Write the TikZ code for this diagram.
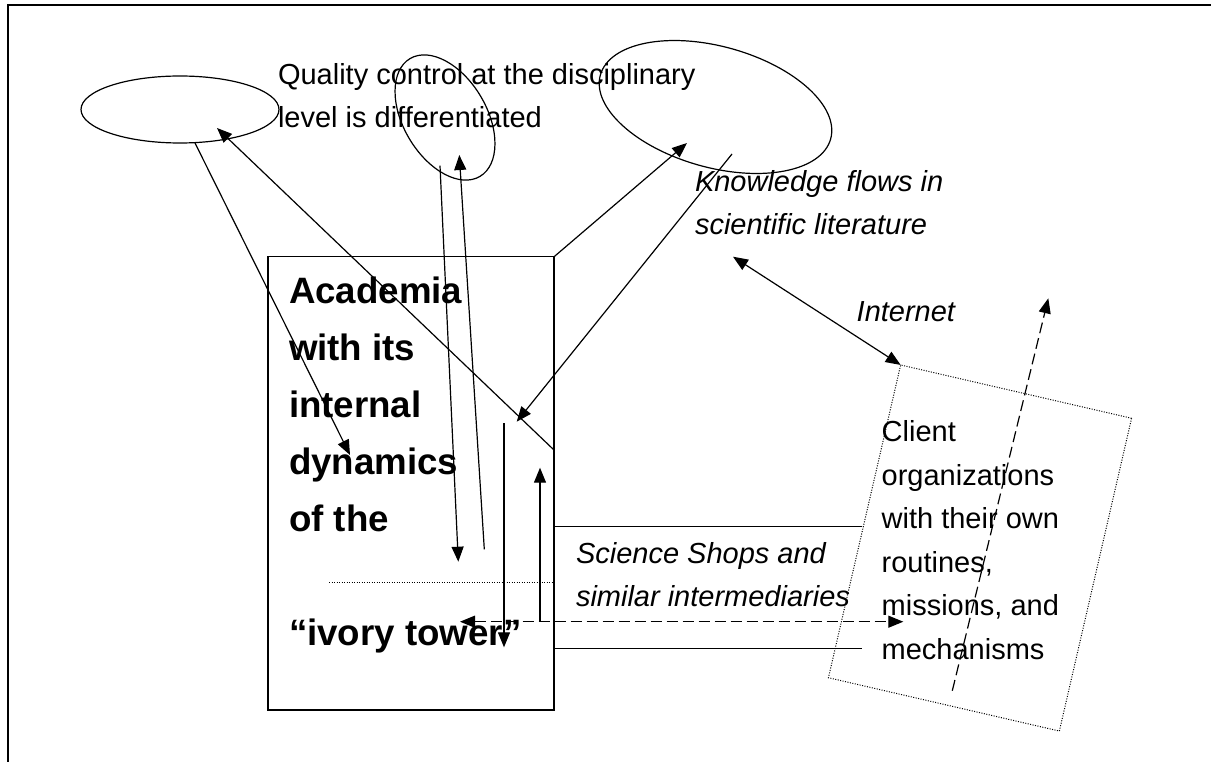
\documentclass[tikz,border=0pt]{standalone}
\usepackage{fontspec}
\setmainfont{Liberation Sans}
\usetikzlibrary{shapes.geometric,arrows.meta}

\begin{document}
\begin{tikzpicture}
  [x=1pt,y=-1pt,line width=1.2pt,
   every node/.style={inner sep=0pt, outer sep=0pt},
   oval/.style={ellipse, draw, line width=1.2pt},
   txt/.style={anchor=base west, align=left, font=\fontsize{29}{43.5}\selectfont},
   itxt/.style={txt, font=\fontsize{29}{43.5}\selectfont\itshape},
   tipend/.style={-{Triangle[length=15pt,width=12pt]}},
   tipboth/.style={{Triangle[length=15pt,width=12pt]}-{Triangle[length=15pt,width=12pt]}},
   dashline/.style={dash pattern=on 11pt off 5pt},
   dotline/.style={dash pattern=on 1pt off 1.5pt, line width=1pt}]
  \useasboundingbox (0,0) rectangle (1211,762);
  \draw[line width=1.6pt] (8,762) -- (8,5) -- (1211,5);

  \node[oval, minimum width=198pt, minimum height=67pt] (e0) at (180,109.5) {};
  \node[oval, minimum width=137pt, minimum height=83pt, rotate=-59.3] (e1) at (445,117.5) {};
  \node[oval, minimum width=239pt, minimum height=121pt, rotate=-15.5] (e2) at (715.5,107) {};
  \node[draw, line width=1.4pt, minimum width=286pt, minimum height=453pt] (n0) at (411,483.3) {};
  \node[draw, dotline, minimum width=237pt, minimum height=321pt, rotate=-13] (n1) at (980,548) {};

  \node[txt] (t0) at (278,128) {Quality control at the disciplinary\\level is differentiated};
  \node[txt, font=\fontsize{36.7}{57}\selectfont\bfseries] (t1) at (289,645)
    {Academia\\with its\\internal\\dynamics\\of the\\[57pt]“ivory tower”};
  \node[itxt] (t2) at (695,235) {Knowledge flows in\\scientific literature};
  \node[itxt] (t3) at (856.7,321.7) {Internet};
  \node[itxt] (t4) at (576,606.7) {Science Shops and\\similar intermediaries};
  \node[txt] (t5) at (881.7,659) {Client\\organizations\\with their own\\routines,\\missions, and\\mechanisms};

  \coordinate (a0) at (195,143);     \coordinate (a1) at (350,455);
  \coordinate (b0) at (554,450);     \coordinate (b1) at (217,128);
  \coordinate (c0) at (440,165.7);   \coordinate (c1) at (458.3,561.7);
  \coordinate (d0) at (484.3,549.3); \coordinate (d1) at (459.3,155);
  \coordinate (f1) at (687,143);
  \coordinate (g0) at (732,154);     \coordinate (g1) at (516.7,421.7);
  \coordinate (h0) at (733,256.7);
  \coordinate (i0) at (504,423.3);   \coordinate (i1) at (504,647.3);
  \coordinate (j0) at (540,621.7);   \coordinate (j1) at (540,467.7);
  \coordinate (k0) at (460,621.7);   \coordinate (k1) at (903.3,621.7);
  \coordinate (m0) at (952.3,690.7); \coordinate (m1) at (1048.3,298.3);
  \coordinate (q0) at (329,582.3);   \coordinate (q1) at (552,582.3);
  \coordinate (s0) at (554,526.7);   \coordinate (s1) at (861.7,526.7);
  \coordinate (s2) at (554,648.3);   \coordinate (s3) at (861.7,648.3);

  \foreach \from/\to in {a0/a1,b0/b1,c0/c1,d0/d1,n0.north east/f1,g0/g1,i0/i1,j0/j1}
    \draw[tipend] (\from) -- (\to);
  \draw[tipboth] (h0) -- (n1.north west);
  \draw[tipboth, dashline] (k0) -- (k1);
  \draw[tipend, dashline] (m0) -- (m1);
  \foreach \from/\to in {s0/s1,s2/s3}
    \draw (\from) -- (\to);
  \draw[dotline] (q0) -- (q1);
\end{tikzpicture}
\end{document}
